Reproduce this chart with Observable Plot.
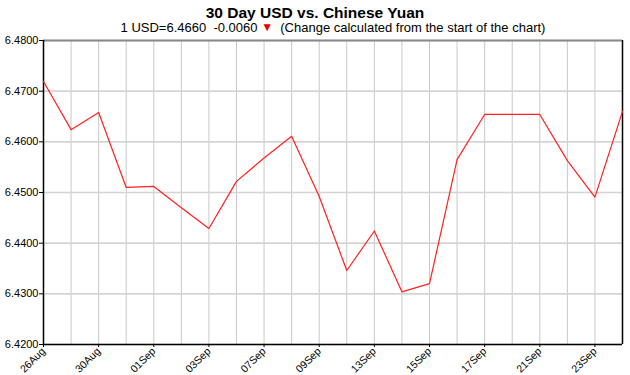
<!DOCTYPE html>
<html>
<head>
<meta charset="utf-8">
<script src="https://cdn.jsdelivr.net/npm/d3@7"></script>
<script src="https://cdn.jsdelivr.net/npm/@observablehq/plot@0.6"></script>
<style>
  html, body { margin: 0; padding: 0; background: #fff; }
  body { width: 630px; height: 375px; overflow: hidden; font-family: "Liberation Sans", Arial, sans-serif; }
  #head { height: 32px; text-align: center; color: #000; }
  #title { font-size: 15.5px; font-weight: bold; line-height: 17px; padding-top: 4px; }
  #sub { font-size: 13px; line-height: 13px; padding-left: 36px; }
  #sub .tri { color: #e00; font-size: 12px; position: relative; top: -1px; }
  svg { display: block; }
</style>
</head>
<body>
<div id="head">
  <div id="title">30 Day USD vs. Chinese Yuan</div>
  <div id="sub">1 USD=6.4660&nbsp; -0.0060 <span class="tri">▼</span>&nbsp; (Change calculated from the start of the chart)</div>
</div>
<div id="chart"></div>
<script>
const dates = ["26Aug","27Aug","30Aug","31Aug","01Sep","02Sep","03Sep","06Sep","07Sep","08Sep","09Sep","10Sep","13Sep","14Sep","15Sep","16Sep","17Sep","20Sep","21Sep","22Sep","23Sep","24Sep"];
const rates = [6.4719,6.4624,6.4658,6.4510,6.4512,6.4470,6.4429,6.4522,6.4568,6.4611,6.4492,6.4346,6.4424,6.4304,6.4320,6.4565,6.4654,6.4654,6.4654,6.4563,6.4491,6.4660];
const labelDates = ["26Aug","30Aug","01Sep","03Sep","07Sep","09Sep","13Sep","15Sep","17Sep","21Sep","23Sep"];
const yTicks = [6.42,6.43,6.44,6.45,6.46,6.47,6.48];

const data = dates.map((d, i) => ({date: d, rate: rates[i]}));

const chart = Plot.plot({
  width: 630,
  height: 343,
  marginTop: 8,
  marginBottom: 31,
  marginLeft: 43,
  marginRight: 8,
  style: {fontFamily: "'Liberation Sans', Arial, sans-serif", fontSize: "11px", color: "#000", background: "#fff"},
  x: {type: "point", domain: dates, padding: 0, round: false},
  y: {domain: [6.42, 6.48]},
  marks: [
    Plot.ruleX(dates, {x: d => d, stroke: "#c8c8c8", strokeWidth: 1, strokeOpacity: 1}),
    Plot.ruleY(yTicks, {y: d => d, stroke: "#d4d4d4", strokeWidth: 1.6, strokeOpacity: 1}),
    Plot.axisY({ticks: yTicks, tickFormat: d3.format(".4f"), tickSize: 4, tickPadding: 1, label: null, fontSize: 11, stroke: "#000"}),
    Plot.axisX({ticks: labelDates, tickSize: 3, tickRotate: -45, tickPadding: 2, label: null, fontSize: 10.5, stroke: "#000"}),
    Plot.ruleY([6.48], {stroke: "#888", strokeWidth: 2}),
    Plot.ruleY([6.42], {stroke: "#000", strokeWidth: 1.5}),
    Plot.ruleX([dates[0], dates[dates.length - 1]], {x: d => d, stroke: "#000", strokeWidth: 1.5}),
    Plot.line(data, {x: "date", y: "rate", stroke: "#ff2020", strokeWidth: 1.2})
  ]
});
document.getElementById("chart").appendChild(chart);
</script>
</body>
</html>
